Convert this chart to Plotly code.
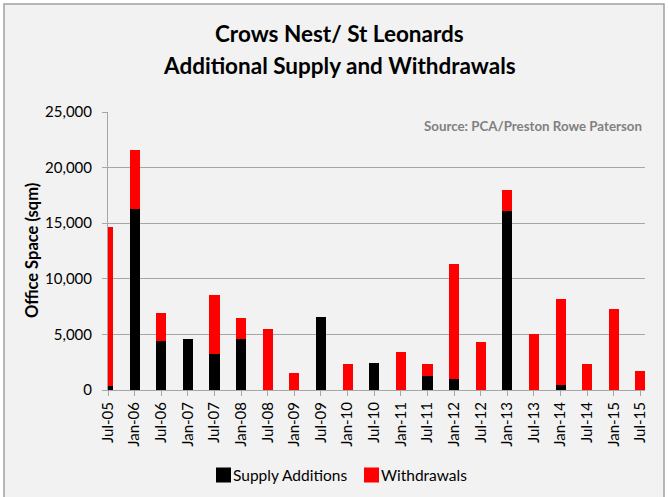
import plotly.graph_objects as go

# Half-yearly periods
periods = ["Jul-05", "Jan-06", "Jul-06", "Jan-07", "Jul-07", "Jan-08", "Jul-08",
           "Jan-09", "Jul-09", "Jan-10", "Jul-10", "Jan-11", "Jul-11", "Jan-12",
           "Jul-12", "Jan-13", "Jul-13", "Jan-14", "Jul-14", "Jan-15", "Jul-15"]

# Office space (sqm)
supply_additions = [400, 16300, 4400, 4600, 3200, 4600, 0,
                    0, 6600, 0, 2400, 0, 1300, 1000,
                    0, 16100, 0, 450, 0, 0, 0]
withdrawals = [14250, 5300, 2500, 0, 5300, 1850, 5500,
               1500, 0, 2300, 0, 3400, 1000, 10300,
               4350, 1900, 5000, 7750, 2350, 7250, 1750]

y_ticks = [0, 5000, 10000, 15000, 20000, 25000]

series = [("Supply Additions", supply_additions, "#000000"),
          ("Withdrawals", withdrawals, "#FF0000")]

x_pos = list(range(len(periods)))
FONT = "Lato"

fig = go.Figure()
for name, vals, col in series:
    fig.add_trace(go.Bar(x=x_pos, y=vals, name=name, showlegend=False,
                         marker=dict(color=col, line=dict(width=0)), width=0.38))

# plot area spans px 108..645 horizontally, 112..390 vertically
L, R, T, B = 108, 23, 112, 107
W, H = 668, 497
pw, ph = W - L - R, H - T - B


def px_x(p):
    return (p - L) / pw


def px_y(p):
    return (H - B - p) / ph


shapes = [dict(type="rect", xref="paper", yref="paper",
               x0=px_x(4), x1=px_x(664), y0=px_y(500), y1=px_y(4),
               line=dict(color="#A0A0A0", width=1.5),
               fillcolor="#F2F2F2", layer="below")]

annotations = [
    dict(text="<b>Crows Nest/ St Leonards</b>", xref="paper", yref="paper",
         x=px_x(339), y=px_y(33), xanchor="center", yanchor="middle",
         showarrow=False, font=dict(family=FONT, size=22.5, color="#000000")),
    dict(text="<b>Additional Supply and Withdrawals</b>", xref="paper", yref="paper",
         x=px_x(339), y=px_y(66), xanchor="center", yanchor="middle",
         showarrow=False, font=dict(family=FONT, size=22.5, color="#000000")),
    dict(text="<b>Source: PCA/Preston Rowe Paterson</b>",
         xref="paper", yref="paper", x=px_x(644), y=px_y(126),
         xanchor="right", yanchor="middle", showarrow=False,
         font=dict(family=FONT, size=13.3, color="#808080")),
    dict(text="<b>Office Space (sqm)</b>", textangle=-90,
         xref="paper", yref="paper", x=px_x(32), y=px_y(251),
         xanchor="center", yanchor="middle", showarrow=False,
         font=dict(family=FONT, size=16.5, color="#000000")),
]

# legend drawn as swatches with labels
legend_items = [(216, "Supply Additions"), (364, "Withdrawals")]
for (x0, _), (name, _, col) in zip(legend_items, series):
    shapes.append(dict(type="rect", xref="paper", yref="paper",
                       x0=px_x(x0), x1=px_x(x0 + 15), y0=px_y(482.5), y1=px_y(467.5),
                       fillcolor=col, line=dict(width=0)))
    annotations.append(dict(text=name, xref="paper", yref="paper",
                            x=px_x(x0 + 15), y=px_y(475), xanchor="left",
                            yanchor="middle", showarrow=False,
                            font=dict(family=FONT, size=15.5, color="#000000")))

fig.update_layout(
    width=W, height=H,
    margin=dict(l=L, r=R, t=T, b=B),
    barmode="stack",
    showlegend=False,
    paper_bgcolor="#FFFFFF",
    plot_bgcolor="#F2F2F2",
    font=dict(family=FONT, color="#000000", size=14),
    xaxis=dict(
        tickmode="array", tickvals=x_pos, ticktext=periods, tickangle=-90,
        range=[0, 20.17], showgrid=False, zeroline=False,
        showline=True, linecolor="#A6A6A6", linewidth=1,
        ticks="outside", ticklen=5, tickcolor="#A6A6A6",
        tickfont=dict(family=FONT, size=15, color="#000000"),
    ),
    yaxis=dict(
        tickmode="array", tickvals=y_ticks,
        ticktext=[f"{v:,}" for v in y_ticks],
        range=[0, 25000], showgrid=True, gridcolor="#A6A6A6", gridwidth=1,
        zeroline=False, showline=True, linecolor="#A6A6A6", linewidth=1,
        ticks="outside", ticklen=5, tickcolor="#A6A6A6",
        ticklabelstandoff=7,
        tickfont=dict(family=FONT, size=15, color="#000000"),
    ),
    shapes=shapes,
    annotations=annotations,
)

fig.write_html("out.html")
